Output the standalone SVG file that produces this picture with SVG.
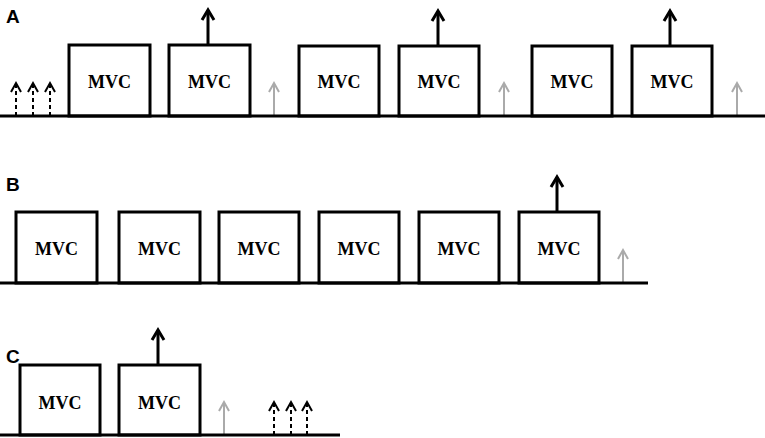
<svg xmlns="http://www.w3.org/2000/svg" width="765" height="438" viewBox="0 0 765 438">
<style>
.box{fill:#fff;stroke:#000;stroke-width:3}
.base{stroke:#000;stroke-width:3;fill:none}
.lbl{font-family:"Liberation Sans",Arial,sans-serif;font-weight:bold;font-size:19px;fill:#000}
.t{font-family:"Liberation Serif","Times New Roman",serif;font-weight:bold;font-size:18px;fill:#000;text-anchor:middle}
.blk{stroke:#000;stroke-width:3;fill:none}
.gry{stroke:#aaa;stroke-width:2;fill:none}
.dsh{stroke:#000;stroke-width:2;fill:none}
.dash{stroke-dasharray:4 3}
</style>
<defs>
<g id="blkArrow"><path class="blk" d="M0,35 V1"/><path class="blk" d="M-6,11 L0,1 L6,11" stroke-linejoin="miter"/></g>
<g id="grayArrow"><path class="gry" d="M0,33 V1"/><path class="gry" d="M-5,10 L0,1 L5,10"/></g>
<g id="dashArrow"><path class="dsh dash" d="M0,34 V3"/><path class="dsh" d="M-5,10 L0,1 L5,10"/></g>
</defs>
<text class="lbl" x="6" y="23">A</text>
<text class="lbl" x="6" y="191">B</text>
<text class="lbl" x="6" y="363">C</text>
<g id="connectors">
<use href="#dashArrow" x="16" y="82"/>
<use href="#dashArrow" x="33" y="82"/>
<use href="#dashArrow" x="50" y="82"/>
<use href="#blkArrow" x="208" y="9"/>
<use href="#grayArrow" x="274" y="82"/>
<use href="#blkArrow" x="438" y="10"/>
<use href="#grayArrow" x="504" y="82"/>
<use href="#blkArrow" x="670" y="10"/>
<use href="#grayArrow" x="737" y="82"/>
<use href="#blkArrow" x="557" y="176"/>
<use href="#grayArrow" x="623" y="249"/>
<use href="#blkArrow" x="158" y="329"/>
<use href="#grayArrow" x="224" y="401"/>
<use href="#dashArrow" x="274" y="401"/>
<use href="#dashArrow" x="291" y="401"/>
<use href="#dashArrow" x="307" y="401"/>
</g>
<g id="A1"><rect class="box" x="69" y="45" width="81" height="71"/><text class="t" x="109.5" y="88">MVC</text></g>
<g id="A2"><rect class="box" x="169" y="45" width="81" height="71"/><text class="t" x="209.5" y="88">MVC</text></g>
<g id="A3"><rect class="box" x="299" y="46" width="80" height="70"/><text class="t" x="339" y="88">MVC</text></g>
<g id="A4"><rect class="box" x="399" y="46" width="80" height="70"/><text class="t" x="439" y="88">MVC</text></g>
<g id="A5"><rect class="box" x="532" y="46" width="80" height="70"/><text class="t" x="572" y="88">MVC</text></g>
<g id="A6"><rect class="box" x="632" y="46" width="80" height="70"/><text class="t" x="672" y="88">MVC</text></g>
<g id="B1"><rect class="box" x="16" y="212" width="81" height="71"/><text class="t" x="56.5" y="255">MVC</text></g>
<g id="B2"><rect class="box" x="119" y="212" width="81" height="71"/><text class="t" x="159.5" y="255">MVC</text></g>
<g id="B3"><rect class="box" x="219" y="212" width="80" height="71"/><text class="t" x="259" y="255">MVC</text></g>
<g id="B4"><rect class="box" x="319" y="212" width="80" height="71"/><text class="t" x="359" y="255">MVC</text></g>
<g id="B5"><rect class="box" x="419" y="212" width="80" height="71"/><text class="t" x="459" y="255">MVC</text></g>
<g id="B6"><rect class="box" x="519" y="212" width="80" height="71"/><text class="t" x="559" y="255">MVC</text></g>
<g id="C1"><rect class="box" x="20" y="365" width="80" height="70"/><text class="t" x="60" y="409">MVC</text></g>
<g id="C2"><rect class="box" x="119" y="365" width="81" height="70"/><text class="t" x="159.5" y="409">MVC</text></g>
<path class="base" d="M0,116 H765"/>
<path class="base" d="M0,283 H648"/>
<path class="base" d="M0,435 H340"/>
</svg>
